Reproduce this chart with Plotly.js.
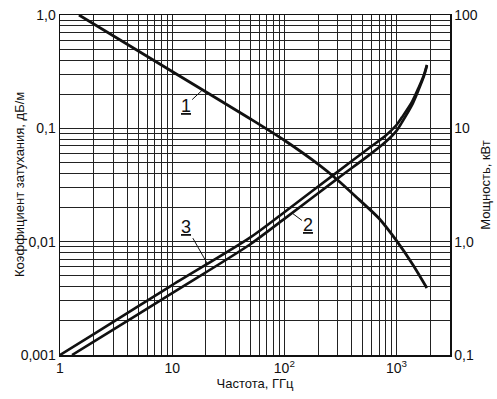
<!DOCTYPE html>
<html>
<head>
<meta charset="utf-8">
<script src="https://cdn.plot.ly/plotly-3.0.1.min.js"></script>
<style>html,body{margin:0;padding:0;background:#fff;}#chart{width:497px;height:399px;}</style>
</head>
<body>
<div id="chart"></div>
<script>
// Curve 1: power, kW (right axis)
const freq1 = [1.476, 10, 50, 100, 200, 295, 464, 700, 1000, 1400, 1865];
const power1 = [100, 31.7, 12.1, 7.85, 4.83, 3.54, 2.35, 1.6, 1.02, 0.626, 0.39];
// Curve 3: attenuation, dB/m (left axis, upper line)
const freq3 = [1, 2, 10, 49, 100, 300, 570, 807, 1000, 1119, 1374, 1585, 1754, 1868];
const att3 = [0.001, 0.00153, 0.00414, 0.0108, 0.0182, 0.0415, 0.067, 0.087, 0.107, 0.125, 0.171, 0.232, 0.295, 0.363];
// Curve 2: attenuation, dB/m (left axis, lower line)
const freq2 = [1.28, 2, 10, 49, 100, 300, 570, 807, 1000, 1119, 1374, 1585, 1754, 1868];
const att2 = [0.001, 0.00131, 0.00352, 0.0094, 0.0159, 0.0362, 0.058, 0.0765, 0.095, 0.113, 0.16, 0.222, 0.287, 0.357];

// Tick labels
const xDecades = [1, 10, 100, 1000];
const xDecadeLabels = ['1', '10', '10<sup>2</sup>', '10<sup>3</sup>'];
const yDecades = [0.001, 0.01, 0.1, 1];
const yDecadeLabels = ['0,001', '0,01', '0,1', '1,0'];
const y2Decades = [0.1, 1, 10, 100];
const y2DecadeLabels = ['0,1', '1,0', '10', '100'];

const xTitle = 'Частота, ГГц';
const yTitle = 'Коэффициент затухания, дБ/м';
const y2Title = 'Мощность, кВт';

// minor grid positions 2..9 within each decade
function minorGrid(decades, lastMax) {
  const vals = [];
  decades.forEach(function (d) {
    for (let k = 2; k <= 9; k++) {
      const v = d * k;
      if (lastMax && v > lastMax * 1.0001) break;
      vals.push(v);
    }
  });
  if (lastMax) vals.push(lastMax);
  return vals;
}

const xMinor = minorGrid(xDecades, 3000);
const yMinor = minorGrid([0.001, 0.01, 0.1], 0);

const font = {family: 'Liberation Sans, Arial, sans-serif', color: '#111'};
function f(size) { return Object.assign({size: size}, font); }

const traces = [
  {x: freq1, y: power1, yaxis: 'y2', mode: 'lines', line: {color: '#111', width: 2.8, shape: 'spline', smoothing: 0.8}, hoverinfo: 'skip'},
  {x: freq3, y: att3, mode: 'lines', line: {color: '#111', width: 2.6, shape: 'spline', smoothing: 0.8}, hoverinfo: 'skip'},
  {x: freq2, y: att2, mode: 'lines', line: {color: '#111', width: 2.6, shape: 'spline', smoothing: 0.8}, hoverinfo: 'skip'}
];

const gridStyle = {showgrid: true, gridcolor: '#222', gridwidth: 1, ticks: ''};

const layout = {
  width: 497, height: 399,
  margin: {l: 60, r: 47, t: 15, b: 44},
  paper_bgcolor: '#fff', plot_bgcolor: '#fff',
  showlegend: false,
  font: f(14),
  xaxis: {
    type: 'log', range: [0, Math.log10(3000)],
    tickmode: 'array', tickvals: xDecades, ticktext: xDecadeLabels, tickangle: 0,
    showgrid: true, gridcolor: '#222', gridwidth: 1,
    minor: Object.assign({tickmode: 'array', tickvals: xMinor}, gridStyle),
    showline: true, linecolor: '#111', linewidth: 1.5, mirror: true,
    ticks: '', zeroline: false,
    tickfont: f(14),
    title: {text: xTitle, font: f(13), standoff: 2}
  },
  yaxis: {
    type: 'log', range: [-3, 0],
    tickmode: 'array', tickvals: yDecades, ticktext: yDecadeLabels,
    showgrid: true, gridcolor: '#222', gridwidth: 1,
    minor: Object.assign({tickmode: 'array', tickvals: yMinor}, gridStyle),
    showline: true, linecolor: '#111', linewidth: 1.5, mirror: true,
    ticks: '', zeroline: false,
    tickfont: f(14)
  },
  yaxis2: {
    type: 'log', range: [-1, 2], overlaying: 'y', side: 'right',
    tickmode: 'array', tickvals: y2Decades, ticktext: y2DecadeLabels,
    showgrid: false, showline: true, linecolor: '#111', linewidth: 1.5,
    ticks: '', zeroline: false,
    tickfont: f(14),
    title: {text: y2Title, font: f(13), standoff: 4}
  },
  annotations: [
    {xref: 'paper', yref: 'paper', x: 0, y: 0.5, xshift: -41, textangle: -90,
     text: yTitle, showarrow: false, font: f(13), xanchor: 'center', yanchor: 'middle'},
    {x: Math.log10(18.7), y: Math.log10(21.9), xref: 'x', yref: 'y2', text: '<u>1</u>',
     showarrow: true, arrowhead: 0, arrowwidth: 1, arrowcolor: '#111', ax: -17, ay: 16,
     font: f(18)},
    {x: Math.log10(118), y: Math.log10(0.0178), xref: 'x', yref: 'y', text: '<u>2</u>',
     showarrow: true, arrowhead: 0, arrowwidth: 1, arrowcolor: '#111', ax: 16, ay: 12,
     font: f(18)},
    {x: Math.log10(20.6), y: Math.log10(0.00639), xref: 'x', yref: 'y', text: '<u>3</u>',
     showarrow: true, arrowhead: 0, arrowwidth: 1, arrowcolor: '#111', ax: -21, ay: -37,
     font: f(18)}
  ]
};

Plotly.newPlot('chart', traces, layout, {staticPlot: true, displayModeBar: false});
</script>
</body>
</html>
